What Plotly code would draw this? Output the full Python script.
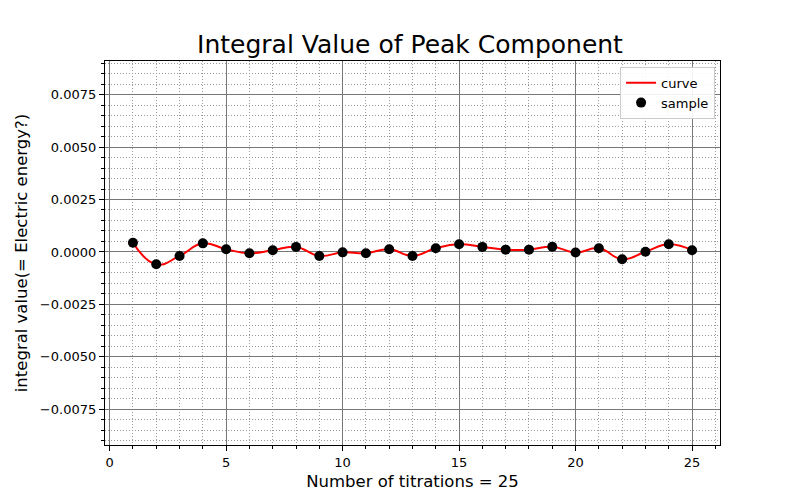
import plotly.graph_objects as go

titrations = list(range(1, 26))
integral_values = [0.00044, -0.00059, -0.00019, 0.00041, 0.00013, -0.00006, 0.00008, 0.00024,
                   -0.00019, -0.00002, -0.00006, 0.00013, -0.00019, 0.00018, 0.00037, 0.00024,
                   0.00011, 0.00011, 0.00025, -0.00003, 0.00018, -0.00035, 0.00001, 0.00037, 0.00008]

title_text = "Integral Value of Peak Component"
x_label = "Number of titrations = 25"
y_label = "integral value(= Electric energy?)"

fig = go.Figure()
fig.add_trace(go.Scatter(
    x=titrations, y=integral_values, mode="lines", name="curve",
    line=dict(color="red", width=2, shape="spline", smoothing=1.3),
))
fig.add_trace(go.Scatter(
    x=titrations, y=integral_values, mode="markers", name="sample",
    marker=dict(color="black", size=10),
))

axis_common = dict(
    showline=True, linecolor="black", linewidth=1.3, mirror=True,
    ticks="outside", ticklen=5, tickwidth=1, tickcolor="black",
    showgrid=True, gridcolor="#777777", gridwidth=1,
    zeroline=False,
    tickfont=dict(family="DejaVu Sans", size=13, color="black"),
)
minor_common = dict(showgrid=True, gridcolor="#999999", griddash="1px,2px",
                    gridwidth=1, ticks="outside", ticklen=2.5, tickcolor="black")

fig.update_xaxes(
    **axis_common,
    range=[-0.2, 26.2], tick0=0, dtick=5,
    minor=dict(dtick=1, tick0=0, **minor_common),
    title=dict(text=x_label, font=dict(family="DejaVu Sans", size=16.5, color="black"), standoff=6),
)
fig.update_yaxes(
    **axis_common,
    range=[-0.0092, 0.0091], tick0=0, dtick=0.0025, tickformat=".4f",
    minor=dict(dtick=0.0005, tick0=0, **minor_common),
    title=dict(text=y_label, font=dict(family="DejaVu Sans", size=16.5, color="black"), standoff=8),
)

fig.update_layout(
    width=792, height=492,
    margin=dict(l=92, r=80, t=53, b=55),
    paper_bgcolor="white", plot_bgcolor="white",
    title=dict(text=title_text, x=(410 - 8) / 792, xanchor="center",
               y=1 - (44 - 8) / 492, yanchor="middle",
               font=dict(family="DejaVu Sans", size=25, color="black")),
    font=dict(family="DejaVu Sans", color="black"),
    legend=dict(x=0.992, y=0.985, xanchor="right", yanchor="top",
                bgcolor="rgba(255,255,255,0.9)", bordercolor="#cccccc", borderwidth=1,
                font=dict(family="DejaVu Sans", size=13, color="black")),
)

fig.write_html("out.html")
